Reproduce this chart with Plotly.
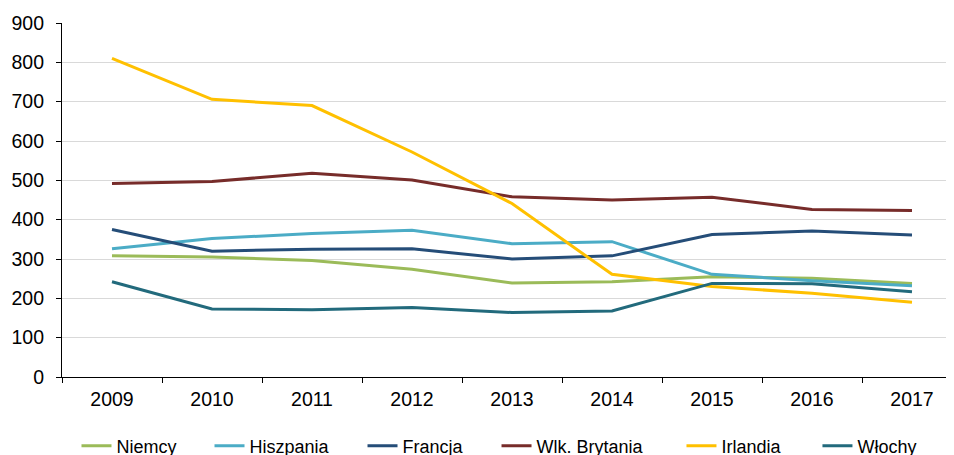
import plotly.graph_objects as go

years = ["2009", "2010", "2011", "2012", "2013", "2014", "2015", "2016", "2017"]
niemcy = [308, 305, 296, 274, 239, 242, 255, 251, 238]
hiszpania = [326, 352, 365, 373, 339, 344, 261, 245, 232]
francja = [375, 320, 325, 326, 300, 308, 362, 371, 361]
wlk_brytania = [492, 497, 518, 501, 458, 450, 457, 426, 423]
irlandia = [810, 706, 690, 572, 441, 261, 230, 213, 190]
wlochy = [242, 173, 171, 177, 164, 168, 238, 237, 217]

series = [
    ("Niemcy", niemcy, "#9BBB59"),
    ("Hiszpania", hiszpania, "#4BACC6"),
    ("Francja", francja, "#254D78"),
    ("Wlk. Brytania", wlk_brytania, "#772C2A"),
    ("Irlandia", irlandia, "#FFC000"),
    ("Włochy", wlochy, "#226A7C"),
]
# horizontal anchor of each legend entry (paper fraction)
legend_x = [0.0161, 0.1639, 0.3339, 0.4828, 0.6883, 0.8394]

fam = "Liberation Sans, Arial, sans-serif"
tick_font = dict(family=fam, size=19.5, color="#000000")
leg_font = dict(family=fam, size=18, color="#000000")

fig = go.Figure()
legend_layout = {}
for i, ((name, vals, color), lx) in enumerate(zip(series, legend_x)):
    key = "legend" if i == 0 else f"legend{i + 1}"
    fig.add_trace(go.Scatter(x=years, y=vals, name=name, mode="lines",
                             line=dict(color=color, width=3), legend=key))
    legend_layout[key] = dict(orientation="h", x=lx, xanchor="left",
                              y=-0.195, yanchor="middle", font=leg_font,
                              bgcolor="rgba(0,0,0,0)", itemwidth=30)

fig.update_layout(
    width=954, height=455,
    margin=dict(l=54, r=0, t=15, b=86, autoexpand=False),
    paper_bgcolor="white", plot_bgcolor="white",
    font=tick_font,
    showlegend=True,
    xaxis=dict(type="category", range=[-0.5, 8.5], showgrid=False, automargin=False,
               showline=True, linecolor="#000000", linewidth=1.2,
               ticks="outside", tickson="boundaries", ticklen=5, tickcolor="#000000",
               ticklabelstandoff=4, tickfont=tick_font),
    yaxis=dict(range=[0, 900], dtick=100, showgrid=True, gridcolor="#D9D9D9", gridwidth=1.2,
               showline=True, linecolor="#000000", linewidth=1.2, automargin=False,
               ticks="outside", ticklen=5, tickcolor="#000000", zeroline=False,
               ticklabelstandoff=8, tickfont=tick_font),
    **legend_layout,
)
fig.write_html("out.html")
